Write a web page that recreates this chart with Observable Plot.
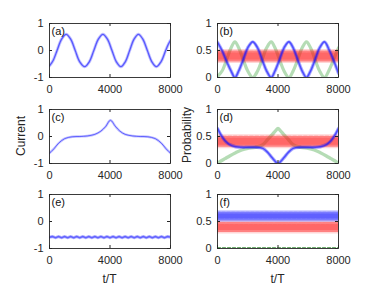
<!DOCTYPE html>
<html><head><meta charset="utf-8">
<script src="https://cdn.jsdelivr.net/npm/d3@7"></script>
<script src="https://cdn.jsdelivr.net/npm/@observablehq/plot@0.6"></script>
<style>
body{margin:0;background:#fff;}
#fig{position:relative;width:382px;height:287px;background:#fff;font-family:"Liberation Sans",Arial,sans-serif;overflow:hidden}
#fig svg{position:absolute;overflow:visible}
.lab{position:absolute;font-size:12px;color:#262626;white-space:nowrap;transform:translate(-50%,-50%)}
</style></head><body><div id="fig"></div>
<script>
// ---- tick labels ----
const xTicks = [0, 4000, 8000];
const curTicks = [-1, 0, 1];
const probTicks = [0, 0.5, 1];

// ---- (a) current ----
const aT = [0, 250, 500, 800, 1100, 1400, 1700, 2000, 2330, 2630, 2930, 3230, 3530, 3830, 4130, 4420, 4720, 5010, 5300, 5590, 5880, 6170, 6470, 6770, 7070, 7370, 7680, 7850, 8000];
const aI = [-0.57, -0.36, 0.0, 0.42, 0.6, 0.42, 0.0, -0.42, -0.6, -0.42, 0.0, 0.42, 0.6, 0.42, 0.0, -0.42, -0.6, -0.42, 0.0, 0.42, 0.6, 0.42, 0.0, -0.42, -0.6, -0.42, 0.0, 0.22, 0.38];

// ---- (b) probabilities ----
const bT = [0, 300, 600, 900, 1150, 1400, 1700, 2000, 2330, 2650, 2950, 3250, 3550, 3800, 4100, 4400, 4720, 5000, 5300, 5600, 5880, 6150, 6450, 6750, 7070, 7400, 7700, 8000];
const bBlue = [0.65, 0.5, 0.3, 0.12, 0.0, 0.12, 0.33, 0.55, 0.66, 0.55, 0.33, 0.12, 0.0, 0.12, 0.33, 0.55, 0.66, 0.55, 0.33, 0.12, 0.0, 0.12, 0.33, 0.55, 0.66, 0.5, 0.3, 0.08];
const bGreen = [0.02, 0.12, 0.33, 0.55, 0.66, 0.55, 0.33, 0.12, 0.0, 0.12, 0.33, 0.55, 0.66, 0.55, 0.33, 0.12, 0.0, 0.12, 0.33, 0.55, 0.66, 0.55, 0.33, 0.12, 0.0, 0.15, 0.35, 0.55];
const bRedT = [0, 2000, 4000, 6000, 8000];
const bRed = [0.4, 0.4, 0.4, 0.4, 0.4];

// ---- (c) current ----
const cT = [0, 300, 600, 1000, 1500, 2000, 2500, 3000, 3400, 3700, 4030, 4350, 4650, 5000, 5500, 6000, 6500, 7000, 7400, 7700, 8000];
const cI = [-0.62, -0.45, -0.25, -0.08, -0.01, 0.0, 0.02, 0.08, 0.2, 0.36, 0.6, 0.38, 0.2, 0.08, 0.02, 0.0, -0.01, -0.08, -0.25, -0.45, -0.62];

// ---- (d) probabilities ----
const dT = [0, 250, 500, 800, 1200, 1600, 2000, 2500, 3000, 3300, 3600, 3850, 4000, 4150, 4400, 4700, 5000, 5500, 6000, 6400, 6800, 7200, 7500, 7750, 8000];
const dBlue = [0.65, 0.52, 0.42, 0.35, 0.31, 0.3, 0.3, 0.3, 0.28, 0.21, 0.11, 0.03, 0.0, 0.03, 0.11, 0.21, 0.28, 0.3, 0.3, 0.3, 0.31, 0.35, 0.42, 0.52, 0.65];
const dGreen = [0.0, 0.05, 0.09, 0.14, 0.2, 0.25, 0.28, 0.3, 0.35, 0.44, 0.53, 0.61, 0.65, 0.61, 0.53, 0.44, 0.35, 0.3, 0.28, 0.25, 0.2, 0.14, 0.09, 0.05, 0.0];
const dRedT = [0, 2000, 4000, 6000, 8000];
const dRed = [0.41, 0.41, 0.41, 0.41, 0.41];

// ---- (e) current ----
const eT = [0,200,400,600,800,1000,1200,1400,1600,1800,2000,2200,2400,2600,2800,3000,3200,3400,3600,3800,4000,4200,4400,4600,4800,5000,5200,5400,5600,5800,6000,6200,6400,6600,6800,7000,7200,7400,7600,7800,8000];
const eI = [-0.58,-0.56,-0.6,-0.56,-0.6,-0.56,-0.6,-0.56,-0.6,-0.56,-0.6,-0.56,-0.6,-0.56,-0.6,-0.56,-0.6,-0.56,-0.6,-0.56,-0.6,-0.56,-0.6,-0.56,-0.6,-0.56,-0.6,-0.56,-0.6,-0.56,-0.6,-0.56,-0.6,-0.56,-0.6,-0.56,-0.6,-0.56,-0.6,-0.56,-0.58];

// ---- (f) probabilities ----
const fT = [0, 2000, 4000, 6000, 8000];
const fBlue = [0.6, 0.6, 0.6, 0.6, 0.6];
const fRed = [0.4, 0.4, 0.4, 0.4, 0.4];
const fGreen = [0.01, 0.01, 0.01, 0.01, 0.01];

// ---- layout ----
const fig = document.getElementById("fig");
const PW = 121, PH = 54, ML = 38, MR = 8, MT = 6, MB = 26;
const FONT = '"Liberation Sans", Arial, sans-serif';
const INK = "#262626";
const BLUE = "#1010ff", RED = "#ff1a1a", GREEN = "#2a9a2a";

function thin(T, V, color, w, op, curve) {
  return Plot.line(T, {x: T, y: V, stroke: color, strokeWidth: w, strokeOpacity: op, curve: curve || "catmull-rom", clip: true});
}
function band(T, V, color, w, dash) {
  return [
    Plot.line(T, {x: T, y: V, stroke: color, strokeWidth: w, strokeOpacity: 0.18, clip: true}),
    Plot.line(T, {x: T, y: V, stroke: color, strokeWidth: w - 3, strokeOpacity: 0.45, strokeDasharray: dash, clip: true}),
    Plot.line(T, {x: T, y: V, stroke: color, strokeWidth: w - 7, strokeOpacity: 0.25, strokeDasharray: dash, strokeDashoffset: 1.5, clip: true})
  ];
}

function panel(left, top, yDomain, yTicks, letter, marks) {
  const svg = Plot.plot({
    width: ML + PW + MR, height: MT + PH + MB,
    marginLeft: ML, marginRight: MR, marginTop: MT, marginBottom: MB,
    x: {domain: [0, 8000]},
    y: {domain: yDomain},
    style: {fontFamily: FONT, fontSize: "11px", color: INK, background: "transparent"},
    marks: [
      ...marks,
      Plot.frame({stroke: INK, strokeWidth: 0.9}),
      Plot.ruleX(xTicks, {insetTop: PH - 3, stroke: INK}),
      Plot.ruleX(xTicks, {insetBottom: PH - 3, stroke: INK}),
      Plot.ruleY(yTicks, {insetRight: PW - 3, stroke: INK}),
      Plot.ruleY(yTicks, {insetLeft: PW - 3, stroke: INK}),
      Plot.axisX({ticks: xTicks, tickSize: 0, tickPadding: 8, tickFormat: d => String(d), label: null, fontSize: 11}),
      Plot.axisY({ticks: yTicks, tickSize: 0, tickPadding: 6, tickFormat: d => String(d), label: null, fontSize: 11}),
      Plot.text([letter], {text: d => d, frameAnchor: "top-left", dx: 2, dy: 4, lineAnchor: "top", textAnchor: "start", fontSize: 11, fill: "#111"})
    ]
  });
  svg.style.left = (left - ML) + "px";
  svg.style.top = (top - MT) + "px";
  fig.appendChild(svg);
}

const LX = 49, RX = 217, R1 = 23, R2 = 109, R3 = 194;

panel(LX, R1, [-1, 1], curTicks, "(a)", [
  thin(aT, aI, BLUE, 3, 0.25),
  thin(aT, aI, BLUE, 1.3, 0.6)
]);
panel(RX, R1, [0, 1], probTicks, "(b)", [
  thin(bT, bGreen, GREEN, 3.2, 0.35),
  ...band(bRedT, bRed, RED, 14, "3 2.4"),
  thin(bT, bBlue, BLUE, 3.4, 0.35),
  thin(bT, bBlue, BLUE, 1.6, 0.6)
]);
panel(LX, R2, [-1, 1], curTicks, "(c)", [
  thin(cT, cI, BLUE, 2.4, 0.25),
  thin(cT, cI, BLUE, 1, 0.55)
]);
panel(RX, R2, [0, 1], probTicks, "(d)", [
  thin(dT, dGreen, GREEN, 3.4, 0.35),
  ...band(dRedT, dRed, RED, 14, "3 2.4"),
  thin(dT, dBlue, BLUE, 3.4, 0.35),
  thin(dT, dBlue, BLUE, 1.6, 0.6)
]);
panel(LX, R3, [-1, 1], curTicks, "(e)", [
  thin(eT, eI, BLUE, 3.2, 0.3),
  thin(eT, eI, BLUE, 1.6, 0.5)
]);
panel(RX, R3, [0, 1], probTicks, "(f)", [
  Plot.line(fT, {x: fT, y: fGreen, stroke: "#3a8f3a", strokeWidth: 1.3, strokeDasharray: "3 2", clip: true}),
  ...band(fT, fRed, RED, 13, "2.6 2.2"),
  ...band(fT, fBlue, BLUE, 12, "2.6 2.2")
]);

function label(txt, x, y, rot) {
  const d = document.createElement("div");
  d.className = "lab";
  d.textContent = txt;
  d.style.left = x + "px";
  d.style.top = y + "px";
  if (rot) d.style.transform = "translate(-50%,-50%) rotate(-90deg)";
  fig.appendChild(d);
}
label("Current", 21, 136, true);
label("Probability", 187, 135, true);
label("t/T", 109.5, 279, false);
label("t/T", 277.5, 279, false);
</script>
</body></html>
